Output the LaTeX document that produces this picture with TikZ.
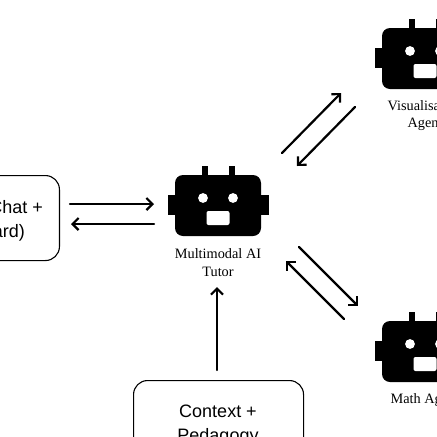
\documentclass[tikz,border=0pt]{standalone}
\usepackage{fontspec}
\setmainfont{Liberation Serif}
\newfontfamily\boxfont{Liberation Sans}
\usetikzlibrary{arrows.meta}
\tikzset{
  x=1pt,y=-1pt,
  flow/.style={line width=2.2pt,line cap=round,-{Straight Barb[length=6pt,width=12pt,line width=2.2pt]}},
  framebox/.style={draw=black,line width=1.1pt,rounded corners=14pt,inner sep=0pt},
  boxtext/.style={font=\boxfont\fontsize{18}{24}\selectfont,inner sep=0pt},
  agentlabel/.style={font=\fontsize{14.3}{18}\selectfont,anchor=base,inner sep=0pt,text=black},
  robotbody/.style={fill=black,draw=none},
  robotface/.style={fill=white,draw=none},
  pics/robot/.style={code={
    \fill[robotbody] (-50,-21) rectangle (51,-1);
    \fill[robotbody] (-16,-50) rectangle (-10,-30);
    \fill[robotbody] (11,-50) rectangle (17,-30);
    \fill[robotbody,rounded corners=8pt] (-43,-41) rectangle (43,20);
    \fill[robotface] (-15,-18) circle (4.9);
    \fill[robotface] (15,-18) circle (4.9);
    \fill[robotface,rounded corners=2pt] (-11.5,-5) rectangle (11.5,9);
  }}
}
\begin{document}
\begin{tikzpicture}
\useasboundingbox (0,0) rectangle (437,437);
\clip (0,0) rectangle (437,437);
\fill[white] (0,0) rectangle (437,437);

% robots
\pic (tutorbot) at (218,216) {robot};
\pic (visbot) at (425,69) {robot};
\pic (mathbot) at (425,362) {robot};

% frames
\node[framebox,minimum width=160pt,minimum height=85pt,anchor=north east] (ui) at (60,175) {};
\node[framebox,minimum width=170pt,minimum height=90pt,anchor=north west] (ctx) at (133,380) {};

% box texts
\node[boxtext,anchor=base east] (uia) at (43,213) {Chat +};
\node[boxtext,anchor=base east] (uib) at (25,237) {Board)};
\node[boxtext,anchor=base] (ctxa) at (218,417) {Context +};
\node[boxtext,anchor=base] (ctxb) at (218,441) {Pedagogy};

% labels
\node[agentlabel] (tutora) at (218,258) {Multimodal AI};
\node[agentlabel] (tutorb) at (218,276) {Tutor};
\node[agentlabel] (visa) at (425,110) {Visualisation};
\node[agentlabel] (visb) at (425,127) {Agent};
\node[agentlabel] (matha) at (425,403) {Math Agent};

% connector ends
\coordinate (a1) at (70,204);   \coordinate (a2) at (154,204);
\coordinate (b1) at (154,224);  \coordinate (b2) at (71,224);
\coordinate (c1) at (217,370);  \coordinate (c2) at (217,287);
\coordinate (d1) at (282,153);  \coordinate (d2) at (341,93);
\coordinate (e1) at (355,107);  \coordinate (e2) at (297,166);
\coordinate (f1) at (299,247);  \coordinate (f2) at (358,306);
\coordinate (g1) at (344,319);  \coordinate (g2) at (286,261);

\draw[flow] (a1) -- (a2);
\draw[flow] (b1) -- (b2);
\draw[flow] (c1) -- (c2);
\draw[flow] (d1) -- (d2);
\draw[flow] (e1) -- (e2);
\draw[flow] (f1) -- (f2);
\draw[flow] (g1) -- (g2);
\end{tikzpicture}
\end{document}
